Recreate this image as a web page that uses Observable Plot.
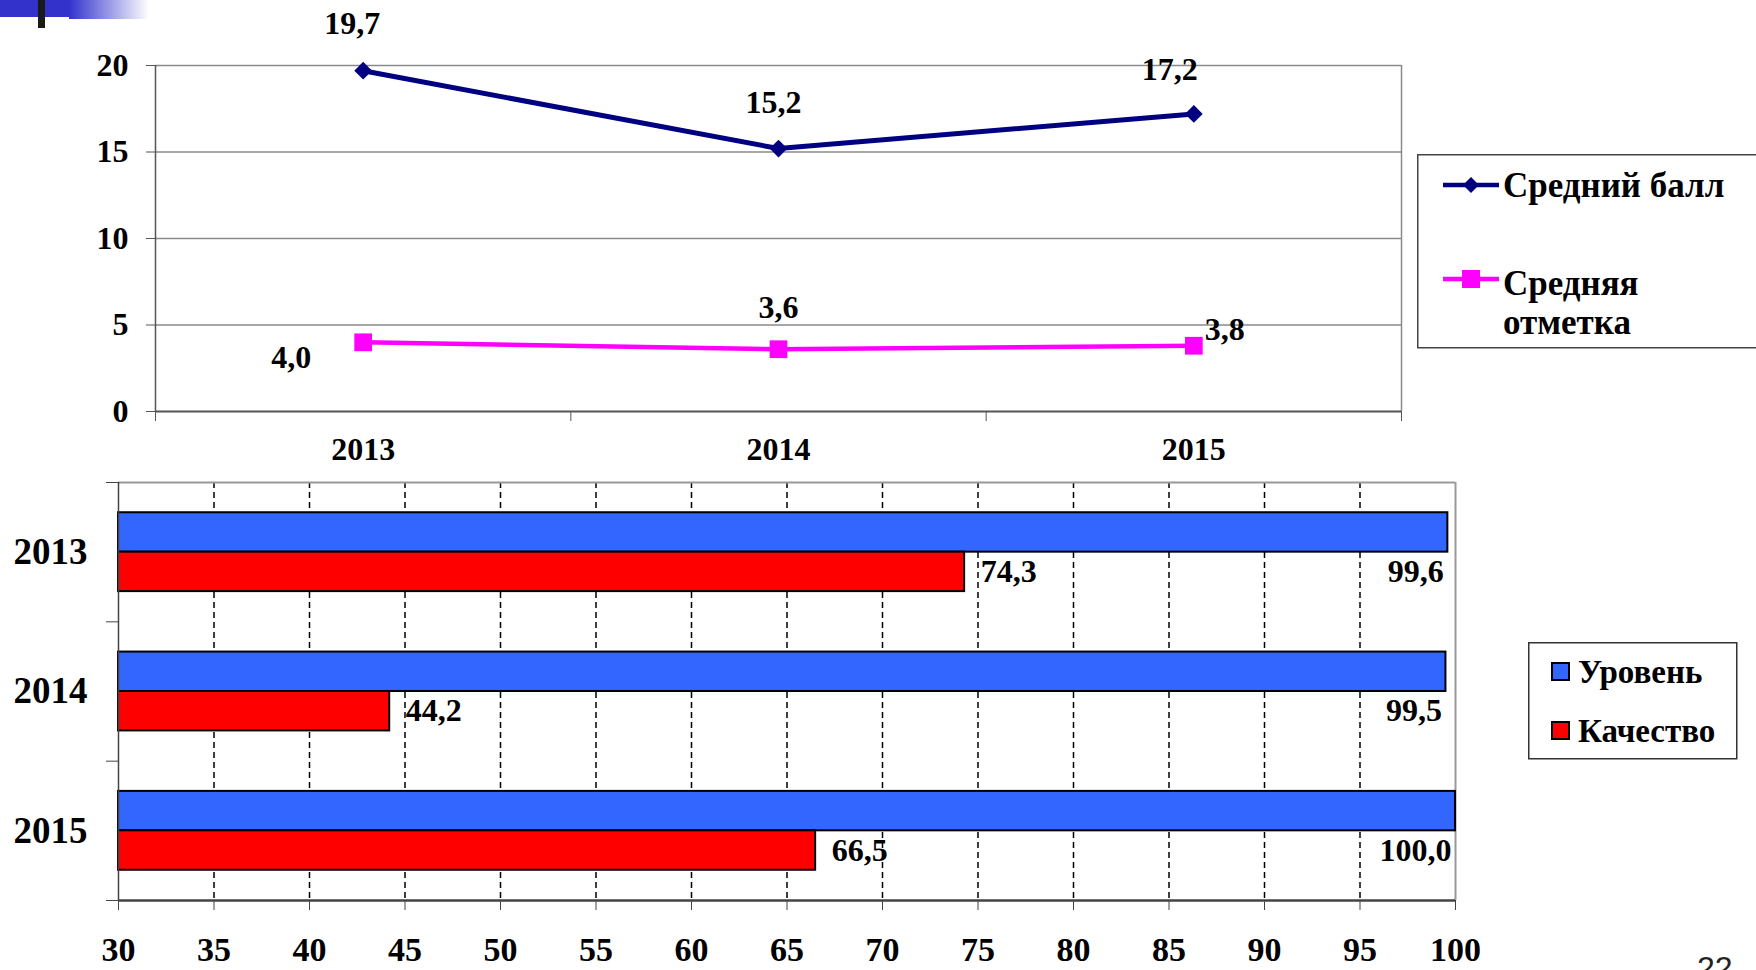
<!DOCTYPE html>
<html>
<head>
<meta charset="utf-8">
<script src="https://cdn.jsdelivr.net/npm/d3@7"></script>
<script src="https://cdn.jsdelivr.net/npm/@observablehq/plot@0.6"></script>
<style>
  html, body { margin: 0; padding: 0; background: #fff; }
  body { width: 1756px; height: 970px; position: relative; overflow: hidden;
         font-family: "Liberation Serif", "Times New Roman", serif; }
  svg text { font-weight: 700; }
  .abs { position: absolute; }
  #topChart { left: 0; top: 0; }
  #bottomChart { left: 0; top: 470px; }
</style>
</head>
<body>
<div class="abs" style="left:0;top:0;width:69px;height:17px;background:#3333cc"></div>
<div class="abs" style="left:69px;top:0;width:80px;height:19px;background:linear-gradient(to right,#3333cc,#ffffff)"></div>
<div class="abs" style="left:38px;top:0;width:7px;height:28px;background:#1a1a1a"></div>
<div id="topChart" class="abs"></div>
<div id="bottomChart" class="abs"></div>
<div class="abs" style="left:1697px;top:952px;font-family:'Liberation Sans',Arial,sans-serif;font-size:32px;line-height:32px;color:#222">22</div>
<script>
// ---------- data ----------
const years = [2013, 2014, 2015];
const lineSeries = ["Средний балл", "Средняя отметка"];
const avgScore = [19.7, 15.2, 17.2];   // Средний балл
const avgMark = [4.0, 3.6, 3.8];       // Средняя отметка
const barSeries = ["Уровень", "Качество"];
const levelValues = [99.6, 99.5, 100.0];   // Уровень
const qualityValues = [74.3, 44.2, 66.5];  // Качество
const topYTicks = [0, 5, 10, 15, 20];
const bottomXTicks = [30, 35, 40, 45, 50, 55, 60, 65, 70, 75, 80, 85, 90, 95, 100];

// ---------- helpers ----------
const fmt = v => v.toFixed(1).replace(".", ",");
const navy = "#000080", pink = "#ff00ff", blue = "#3366ff", red = "#ff0000";
const FONT = "'Liberation Serif', 'Times New Roman', serif";
const LABEL = 32;

// ---------- top chart ----------
const topData = years.map((y, i) => ({year: y, score: avgScore[i], mark: avgMark[i]}));
const yearEdges = [years[0] - 0.5, ...years.map(y => y + 0.5)];
const nth = n => topData.filter((d, i) => i === n);

const topPlot = Plot.plot({
  width: 1420, height: 470,
  marginLeft: 155, marginRight: 19, marginTop: 65, marginBottom: 59,
  style: {fontFamily: FONT, background: "transparent", color: "#000"},
  x: {type: "linear", domain: [yearEdges[0], yearEdges[yearEdges.length - 1]], label: null},
  y: {domain: [0, 20], label: null},
  marks: [
    Plot.ruleY(topYTicks.slice(1), {stroke: "#8a8a8a", strokeWidth: 1.5}),
    Plot.ruleX([yearEdges[yearEdges.length - 1]], {stroke: "#8a8a8a", strokeWidth: 1.5}),
    Plot.ruleX([yearEdges[0]], {stroke: "#555", strokeWidth: 1.5}),
    Plot.ruleY([0], {stroke: "#555", strokeWidth: 2}),
    Plot.axisY({ticks: topYTicks, tickSize: 9, tickPadding: 18, fontSize: 32, stroke: "#555", label: null, tickFormat: d => String(d)}),
    Plot.axisX({ticks: yearEdges, tickSize: 10, tickFormat: () => "", stroke: "#555", label: null}),
    Plot.axisX({ticks: years, tickSize: 0, tickPadding: 26, fontSize: 32, label: null, tickFormat: d => String(d)}),
    Plot.lineY(topData, {x: "year", y: "score", stroke: navy, strokeWidth: 5}),
    Plot.dot(topData, {x: "year", y: "score", symbol: "diamond2", r: 8, fill: navy, stroke: "none"}),
    Plot.lineY(topData, {x: "year", y: "mark", stroke: pink, strokeWidth: 4.5}),
    Plot.dot(topData, {x: "year", y: "mark", symbol: "square", r: 10, fill: pink, stroke: "none"}),
    Plot.text(nth(0), {x: "year", y: "score", text: d => fmt(d.score), dy: -47, dx: -11, fontSize: LABEL}),
    Plot.text(nth(1), {x: "year", y: "score", text: d => fmt(d.score), dy: -46, dx: -5, fontSize: LABEL}),
    Plot.text(nth(2), {x: "year", y: "score", text: d => fmt(d.score), dy: -44, dx: -24, fontSize: LABEL}),
    Plot.text(nth(0), {x: "year", y: "mark", text: d => fmt(d.mark), dx: -72, dy: 15, fontSize: LABEL}),
    Plot.text(nth(1), {x: "year", y: "mark", text: d => fmt(d.mark), dy: -41, fontSize: LABEL}),
    Plot.text(nth(2), {x: "year", y: "mark", text: d => fmt(d.mark), dx: 31, dy: -16, fontSize: LABEL})
  ]
});
document.getElementById("topChart").append(topPlot);

// ---------- bottom chart ----------
const barBand = 0.283; // bar thickness in year units
const barValues = [levelValues, qualityValues];
const barRows = years.flatMap((yr, i) => barSeries.map((s, k) => ({year: yr, series: s, k, value: barValues[k][i]})));
const qualityRows = barRows.filter(d => d.k === 1);
const levelRows = barRows.filter(d => d.k === 0);
const xMin = bottomXTicks[0], xMax = bottomXTicks[bottomXTicks.length - 1];

const bottomPlot = Plot.plot({
  width: 1480, height: 500,
  marginLeft: 118, marginRight: 25, marginTop: 12, marginBottom: 70,
  style: {fontFamily: FONT, background: "transparent", color: "#000"},
  x: {domain: [xMin, xMax], label: null},
  y: {type: "linear", domain: [yearEdges[0], yearEdges[yearEdges.length - 1]], reverse: true, label: null},
  color: {domain: barSeries, range: [blue, red]},
  marks: [
    Plot.ruleX(bottomXTicks.slice(1, -1), {stroke: "#000", strokeWidth: 1.5, strokeDasharray: "6,4"}),
    Plot.ruleY([yearEdges[0]], {stroke: "#999", strokeWidth: 2}),
    Plot.ruleX([xMax], {stroke: "#999", strokeWidth: 2}),
    Plot.rect(barRows, {
      x1: xMin, x2: "value",
      y1: d => d.year + (d.k - 1) * barBand,
      y2: d => d.year + d.k * barBand,
      fill: "series", stroke: "#000", strokeWidth: 2
    }),
    Plot.ruleX([xMin], {stroke: "#444", strokeWidth: 1.5}),
    Plot.ruleY([yearEdges[yearEdges.length - 1]], {stroke: "#444", strokeWidth: 2.5}),
    Plot.axisX({ticks: bottomXTicks, tickSize: 10, tickPadding: 26, fontSize: 34, stroke: "#444", label: null, tickFormat: d => String(d)}),
    Plot.axisY({ticks: yearEdges, tickSize: 12, tickFormat: () => "", stroke: "#444", label: null}),
    Plot.axisY({ticks: years, tickSize: 0, tickPadding: 31, fontSize: 37, label: null, tickFormat: d => String(d)}),
    Plot.text(qualityRows, {x: "value", y: d => d.year + barBand / 2, text: d => fmt(d.value), textAnchor: "start", dx: 16, fontSize: LABEL}),
    Plot.text(levelRows, {x: "value", y: d => d.year + barBand / 2, text: d => fmt(d.value), textAnchor: "end", dx: -4, fontSize: LABEL})
  ]
});
document.getElementById("bottomChart").append(bottomPlot);

// ---------- legends ----------
function legendTop() {
  const svg = d3.select("body").append("svg").attr("class", "abs")
    .style("left", "1417px").style("top", "154px")
    .attr("width", 339).attr("height", 196);
  svg.append("rect").attr("x", 0.75).attr("y", 0.75).attr("width", 400).attr("height", 193)
    .attr("fill", "#fff").attr("stroke", "#444").attr("stroke-width", 1.5);
  const rows = [{color: navy, cy: 31, sym: "diamond"},
                {color: pink, cy: 125, sym: "square"}];
  rows.forEach(r => {
    svg.append("line").attr("x1", 26).attr("x2", 82).attr("y1", r.cy).attr("y2", r.cy)
      .attr("stroke", r.color).attr("stroke-width", 4.5);
    if (r.sym === "diamond") {
      svg.append("path").attr("d", `M54,${r.cy - 8}L62,${r.cy}L54,${r.cy + 8}L46,${r.cy}Z`).attr("fill", r.color);
    } else {
      svg.append("rect").attr("x", 45).attr("y", r.cy - 9).attr("width", 18).attr("height", 18).attr("fill", r.color);
    }
  });
  const t = svg.append("text").attr("font-family", FONT).attr("font-size", 35).attr("font-weight", 700);
  t.append("tspan").attr("x", 86).attr("y", 31).attr("dy", "0.34em").text(lineSeries[0]);
  const t2 = svg.append("text").attr("font-family", FONT).attr("font-size", 35).attr("font-weight", 700);
  const parts = lineSeries[1].split(" ");
  t2.append("tspan").attr("x", 86).attr("y", 129).attr("dy", "0.34em").text(parts[0]);
  t2.append("tspan").attr("x", 86).attr("y", 168).attr("dy", "0.34em").text(parts[1]);
}
function legendBottom() {
  const svg = d3.select("body").append("svg").attr("class", "abs")
    .style("left", "1528px").style("top", "642px")
    .attr("width", 211).attr("height", 119);
  svg.append("rect").attr("x", 0.75).attr("y", 0.75).attr("width", 208).attr("height", 116)
    .attr("fill", "#fff").attr("stroke", "#333").attr("stroke-width", 1.5);
  const cols = [blue, red];
  barSeries.forEach((s, i) => {
    const cy = 30 + i * 59;
    svg.append("rect").attr("x", 24).attr("y", cy - 9).attr("width", 17).attr("height", 17)
      .attr("fill", cols[i]).attr("stroke", "#000").attr("stroke-width", 2);
    svg.append("text").attr("x", 50).attr("y", cy).attr("dy", "0.34em")
      .attr("font-family", FONT).attr("font-size", 33).attr("font-weight", 700).text(s);
  });
}
legendTop();
legendBottom();
</script>
</body>
</html>
